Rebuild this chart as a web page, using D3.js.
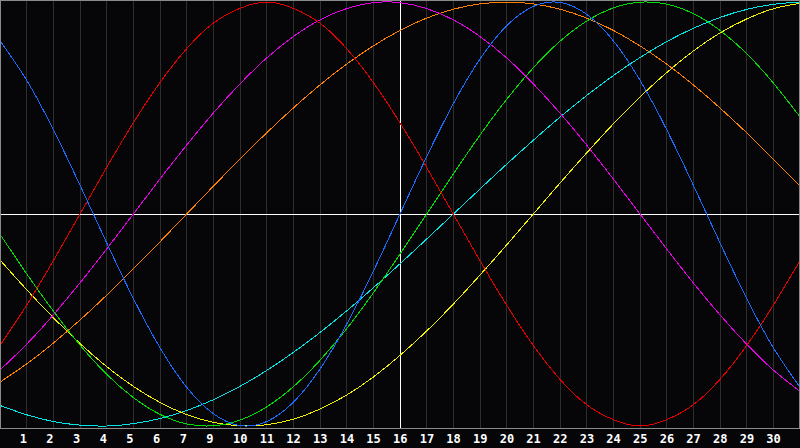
<!DOCTYPE html>
<meta charset="utf-8">
<style>
  body { margin: 0; background: #000; }
  svg { display: block; }
</style>
<body>
<script src="https://d3js.org/d3.v7.min.js"></script>
<script>

// day labels under each grid line (there is no "8" in the original)
var dayLabels = ["1", "2", "3", "4", "5", "6", "7", "9", "10", "11", "12", "13", "14", "15",
  "16", "17", "18", "19", "20", "21", "22", "23", "24", "25", "26", "27", "28", "29", "30"];

// one value per day, t = 0 .. 30 (-1 .. 1)
var red = [-0.62, -0.43, -0.22, 0, 0.22, 0.43, 0.62, 0.78, 0.90, 0.97, 1, 0.97, 0.90, 0.78, 0.62, 0.43,
  0.22, 0, -0.22, -0.43, -0.62, -0.78, -0.90, -0.97, -1, -0.97, -0.90, -0.78, -0.62, -0.43, -0.22];
var blue = [0.817, 0.631, 0.398, 0.136, -0.136, -0.398, -0.631, -0.817, -0.942, -0.998, -0.979, -0.888,
  -0.731, -0.520, -0.270, 0, 0.270, 0.520, 0.731, 0.888, 0.979, 0.998, 0.942, 0.817, 0.631, 0.398,
  0.136, -0.136, -0.398, -0.631, -0.817];
var green = [-0.095, -0.282, -0.458, -0.618, -0.756, -0.866, -0.945, -0.990, -0.999, -0.972, -0.910,
  -0.815, -0.690, -0.541, -0.372, -0.189, 0, 0.189, 0.372, 0.541, 0.690, 0.815, 0.910, 0.972, 0.999,
  0.990, 0.945, 0.866, 0.756, 0.618, 0.458];
var magenta = [-0.736, -0.614, -0.476, -0.325, -0.165, 0, 0.165, 0.325, 0.476, 0.614, 0.736, 0.837,
  0.916, 0.969, 0.997, 0.997, 0.969, 0.916, 0.837, 0.736, 0.614, 0.476, 0.325, 0.165, 0, -0.165,
  -0.325, -0.476, -0.614, -0.736, -0.837];
var yellow = [-0.217, -0.357, -0.489, -0.611, -0.720, -0.813, -0.889, -0.946, -0.983, -0.999, -0.994,
  -0.968, -0.920, -0.854, -0.769, -0.667, -0.552, -0.425, -0.288, -0.146, 0, 0.146, 0.288, 0.425,
  0.552, 0.667, 0.769, 0.854, 0.920, 0.968, 0.994];
var orange = [-0.793, -0.707, -0.609, -0.5, -0.383, -0.259, -0.131, 0, 0.131, 0.259, 0.383, 0.5, 0.609,
  0.707, 0.793, 0.866, 0.924, 0.966, 0.991, 1, 0.991, 0.966, 0.924, 0.866, 0.793, 0.707, 0.609, 0.5,
  0.383, 0.259, 0.131];
var cyan = [-0.903, -0.947, -0.979, -0.996, -1.000, -0.989, -0.965, -0.927, -0.876, -0.813, -0.738,
  -0.653, -0.559, -0.457, -0.348, -0.235, -0.118, 0, 0.118, 0.235, 0.348, 0.457, 0.559, 0.653, 0.738,
  0.813, 0.876, 0.927, 0.965, 0.989, 1.000];

var series = [
  {values: cyan, color: "#00e6e6"},
  {values: yellow, color: "#f0f000"},
  {values: orange, color: "#ff8000"},
  {values: magenta, color: "#e600e6"},
  {values: green, color: "#00dd00"},
  {values: red, color: "#e60000"},
  {values: blue, color: "#1a6cff"}
];

var width = 800,
    height = 448,
    plotBottom = 428;

var x = d3.scaleLinear().domain([0, 30]).range([0, width]);
var y = d3.scaleLinear().domain([-1, 1]).range([426, 2]);

var svg = d3.select("body").append("svg")
    .attr("width", width)
    .attr("height", height);

svg.append("rect")
    .attr("width", width)
    .attr("height", height)
    .attr("fill", "#060608");

// day grid
svg.selectAll(".grid")
    .data(d3.range(1, 30))
    .enter().append("line")
    .attr("class", "grid")
    .attr("x1", function(d) { return Math.floor(x(d)) + 0.5; })
    .attr("x2", function(d) { return Math.floor(x(d)) + 0.5; })
    .attr("y1", 0)
    .attr("y2", plotBottom)
    .attr("stroke", "#2e2e2e");

// today and zero line
svg.append("line")
    .attr("x1", Math.floor(x(15)) + 0.5).attr("x2", Math.floor(x(15)) + 0.5)
    .attr("y1", 0).attr("y2", plotBottom)
    .attr("stroke", "#fff");

svg.append("line")
    .attr("x1", 0).attr("x2", width)
    .attr("y1", Math.floor(y(0)) + 0.5).attr("y2", Math.floor(y(0)) + 0.5)
    .attr("stroke", "#fff");

var line = d3.line()
    .x(function(d, i) { return x(i); })
    .y(function(d) { return y(d); })
    .curve(d3.curveNatural);

svg.selectAll(".rhythm")
    .data(series)
    .enter().append("path")
    .attr("class", "rhythm")
    .attr("d", function(d) { return line(d.values); })
    .attr("fill", "none")
    .attr("stroke", function(d) { return d.color; })
    .attr("stroke-width", 1)
    .attr("shape-rendering", "crispEdges");

// frame
svg.append("rect")
    .attr("x", 0.5).attr("y", 0.5)
    .attr("width", width - 1).attr("height", plotBottom)
    .attr("fill", "none")
    .attr("stroke", "#8a8a8a");

svg.selectAll(".day")
    .data(dayLabels)
    .enter().append("text")
    .attr("class", "day")
    .attr("x", function(d, i) { return x(i + 1) - 7; })
    .attr("y", 443)
    .attr("fill", "#fff")
    .style("font-family", "'DejaVu Sans Mono', monospace")
    .style("font-weight", "bold")
    .style("font-size", "12px")
    .text(function(d) { return d; });

</script>
